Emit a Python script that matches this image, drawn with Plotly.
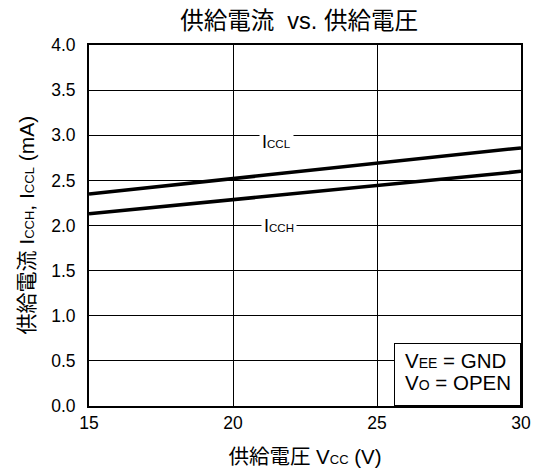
import plotly.graph_objects as go

vcc = [15, 30]
iccl = [2.35, 2.86]
icch = [2.13, 2.60]

x_ticks = [15, 20, 25, 30]
y_ticks = [0.0, 0.5, 1.0, 1.5, 2.0, 2.5, 3.0, 3.5, 4.0]

FONT = "Liberation Sans, Arial, Noto Sans CJK JP"

def sub(main, s, size=11):
    return f"{main}<span style='font-size:{size}px'>{s}</span>"

fig = go.Figure()
fig.add_trace(go.Scatter(x=vcc, y=iccl, mode="lines",
                         line=dict(color="black", width=3.5), showlegend=False))
fig.add_trace(go.Scatter(x=vcc, y=icch, mode="lines",
                         line=dict(color="black", width=3.5), showlegend=False))

fig.update_layout(
    width=538, height=474,
    margin=dict(l=89, r=17, t=45, b=68, autoexpand=False),
    paper_bgcolor="white", plot_bgcolor="white",
    font=dict(family=FONT, color="black", size=18),
    title=dict(text="供給電流  vs. 供給電圧", x=0.556, xanchor="center",
               y=0.956, yanchor="middle", font=dict(size=23.5, family=FONT)),
    xaxis=dict(range=[15, 30], tickvals=x_ticks, ticktext=[str(v) for v in x_ticks],
               showgrid=True, gridcolor="black", gridwidth=1,
               showline=True, linecolor="black", linewidth=2, mirror=True,
               ticks="", zeroline=False, ticklabelstandoff=0, automargin=False,
               tickfont=dict(size=17.5),
               title=dict(text="供給電圧 " + sub("V", "CC", 13) + " (V)",
                          font=dict(size=20.5), standoff=18)),
    yaxis=dict(range=[0, 4.0], tickvals=y_ticks, ticktext=[f"{v:.1f}" for v in y_ticks],
               showgrid=True, gridcolor="black", gridwidth=1,
               showline=True, linecolor="black", linewidth=2, mirror=True,
               ticks="", zeroline=False, ticklabelstandoff=8, automargin=False,
               tickfont=dict(size=17.5)),
)

# y-axis title as rotated annotation
fig.add_annotation(xref="paper", yref="paper", x=0, y=0.5, xshift=-63,
                   text="供給電流 " + sub("I", "CCH", 13) + ", " + sub("I", "CCL", 13) + " (mA)",
                   textangle=-90, showarrow=False, font=dict(size=21),
                   xanchor="center", yanchor="middle")

# line labels
fig.add_annotation(x=21.5, y=2.92, text=sub("I", "CCL", 11.5), showarrow=False,
                   bgcolor="white", font=dict(size=18), borderpad=2)
fig.add_annotation(x=21.6, y=2.0, text=sub("I", "CCH", 11.5), showarrow=False,
                   bgcolor="white", font=dict(size=18), borderpad=2)

# condition box (frame) and its two text lines
fig.add_annotation(xref="paper", yref="paper", x=1, y=0, xanchor="right", yanchor="bottom",
                   text=" ", showarrow=False, bgcolor="white",
                   bordercolor="black", borderwidth=1, borderpad=0,
                   width=125, height=61)
fig.add_annotation(xref="paper", yref="paper", x=0.727, y=0.125,
                   xanchor="left", yanchor="middle", showarrow=False,
                   text=sub("V", "EE", 14) + " = GND", font=dict(size=20.5))
fig.add_annotation(xref="paper", yref="paper", x=0.727, y=0.064,
                   xanchor="left", yanchor="middle", showarrow=False,
                   text=sub("V", "O", 14) + " = OPEN", font=dict(size=20.5))

fig.write_html("out.html", config={"displayModeBar": False},
               post_script="document.body.style.margin='0';")
